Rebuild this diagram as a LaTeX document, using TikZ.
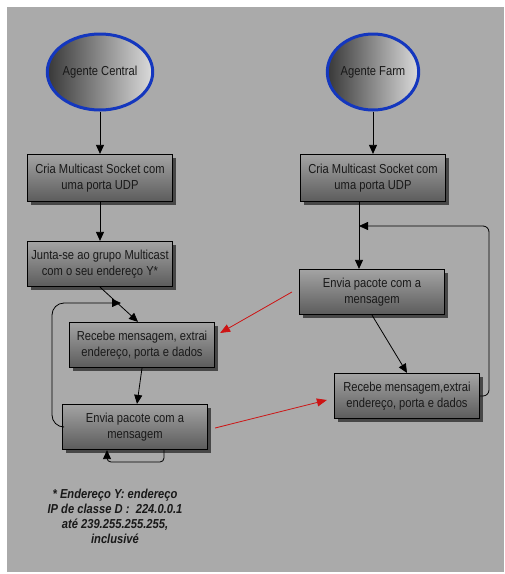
\documentclass[tikz,border=0pt]{standalone}
\usepackage{fontspec}
\setmainfont{Liberation Sans}[FakeStretch=0.86]
\usetikzlibrary{shapes.geometric,arrows.meta,positioning,calc,shadows}
\definecolor{bggray}{RGB}{170,170,170}
\definecolor{agentblue}{RGB}{20,55,190}
\definecolor{msgred}{RGB}{205,20,20}
\tikzset{
  agent/.style={ellipse, draw=agentblue, line width=3pt, inner sep=0pt,
    minimum width=87pt, minimum height=76pt,
    left color=black!78, right color=black!14,
    font=\fontsize{13}{16}\selectfont, text=black!90},
  stepbox/.style={rectangle, draw=black, line width=1.2pt, inner sep=2pt,
    minimum width=145pt, minimum height=45pt, align=center,
    top color=black!36, bottom color=black!64,
    drop shadow={shadow xshift=3pt, shadow yshift=-3pt, fill=black!72, opacity=1},
    font=\fontsize{13}{16}\selectfont, text=black!90},
  flow/.style={-{Triangle[length=9pt,width=8pt]}, line width=0.8pt, black},
  msg/.style={-{Triangle[length=10pt,width=8pt]}, line width=0.8pt, msgred}
}
\begin{document}
\begin{tikzpicture}[x=1pt,y=-1pt]
% background
\fill[white] (0,0) rectangle (505,574);
\fill[bggray] (7,7) rectangle (504,572);

% agents
\node[agent] (ac) at (100,72) {Agente Central};
\node[agent] (af) at (373,72) {Agente Farm};

% left column (central)
\node[stepbox, minimum height=47pt] (criaA) at (100,178) {Cria Multicast Socket com\\uma porta UDP};
\node[stepbox] (junta) at (100,264) {Junta-se ao grupo Multicast\\com o seu endereço Y*};
\node[stepbox] (recA) at (142,345) {Recebe mensagem, extrai\\endereço, porta e dados};
\node[stepbox] (envA) at (135,427) {Envia pacote com a\\mensagem};

% right column (farm)
\node[stepbox, minimum height=47pt] (criaF) at (373,178) {Cria Multicast Socket com\\uma porta UDP};
\node[stepbox] (envF) at (372,292) {Envia pacote com a\\mensagem};
\node[stepbox] (recF) at (407,396) {Recebe mensagem,extrai\\endereço, porta e dados};

\coordinate (loopA) at (121,303);
\coordinate (loopF) at (359,226);

% flow left
\draw[flow] (ac) -- (criaA);
\draw[flow] (criaA) -- (junta);
\draw[flow] (junta.south) -- ([xshift=-4pt]recA.north);
\draw[flow] (recA.south) -- ([xshift=2pt]envA.north);
\draw[flow, rounded corners=12pt] (envA.west) -| (52,303) -- (loopA);
\draw[flow, rounded corners=4pt] ([xshift=29pt]envA.south) |- (107,462) -- ([xshift=-28pt]envA.south);

% flow right
\draw[flow] (af) -- (criaF);
\draw[flow] (criaF.south -| loopF) -- (envF.north -| loopF);
\draw[flow] (envF.south) -- (recF.north);
\draw[flow, rounded corners=6pt] (recF.east) -| (489,226) -- (loopF);

% messages
\draw[msg] ($(envF.west)+(-7,0)$) -- ($(recA.east)+(5,-12)$);
\draw[msg] ($(envA.east)+(7,1)$) -- ($(recF.west)+(-7,4)$);

% note
\node[font=\fontsize{13}{15}\selectfont\bfseries\itshape, align=center, text=black!90] (note) at (115,516)
  {* Endereço Y: endereço\\IP de classe D :\ \ 224.0.0.1\\até 239.255.255.255,\\inclusivé};
\end{tikzpicture}
\end{document}
